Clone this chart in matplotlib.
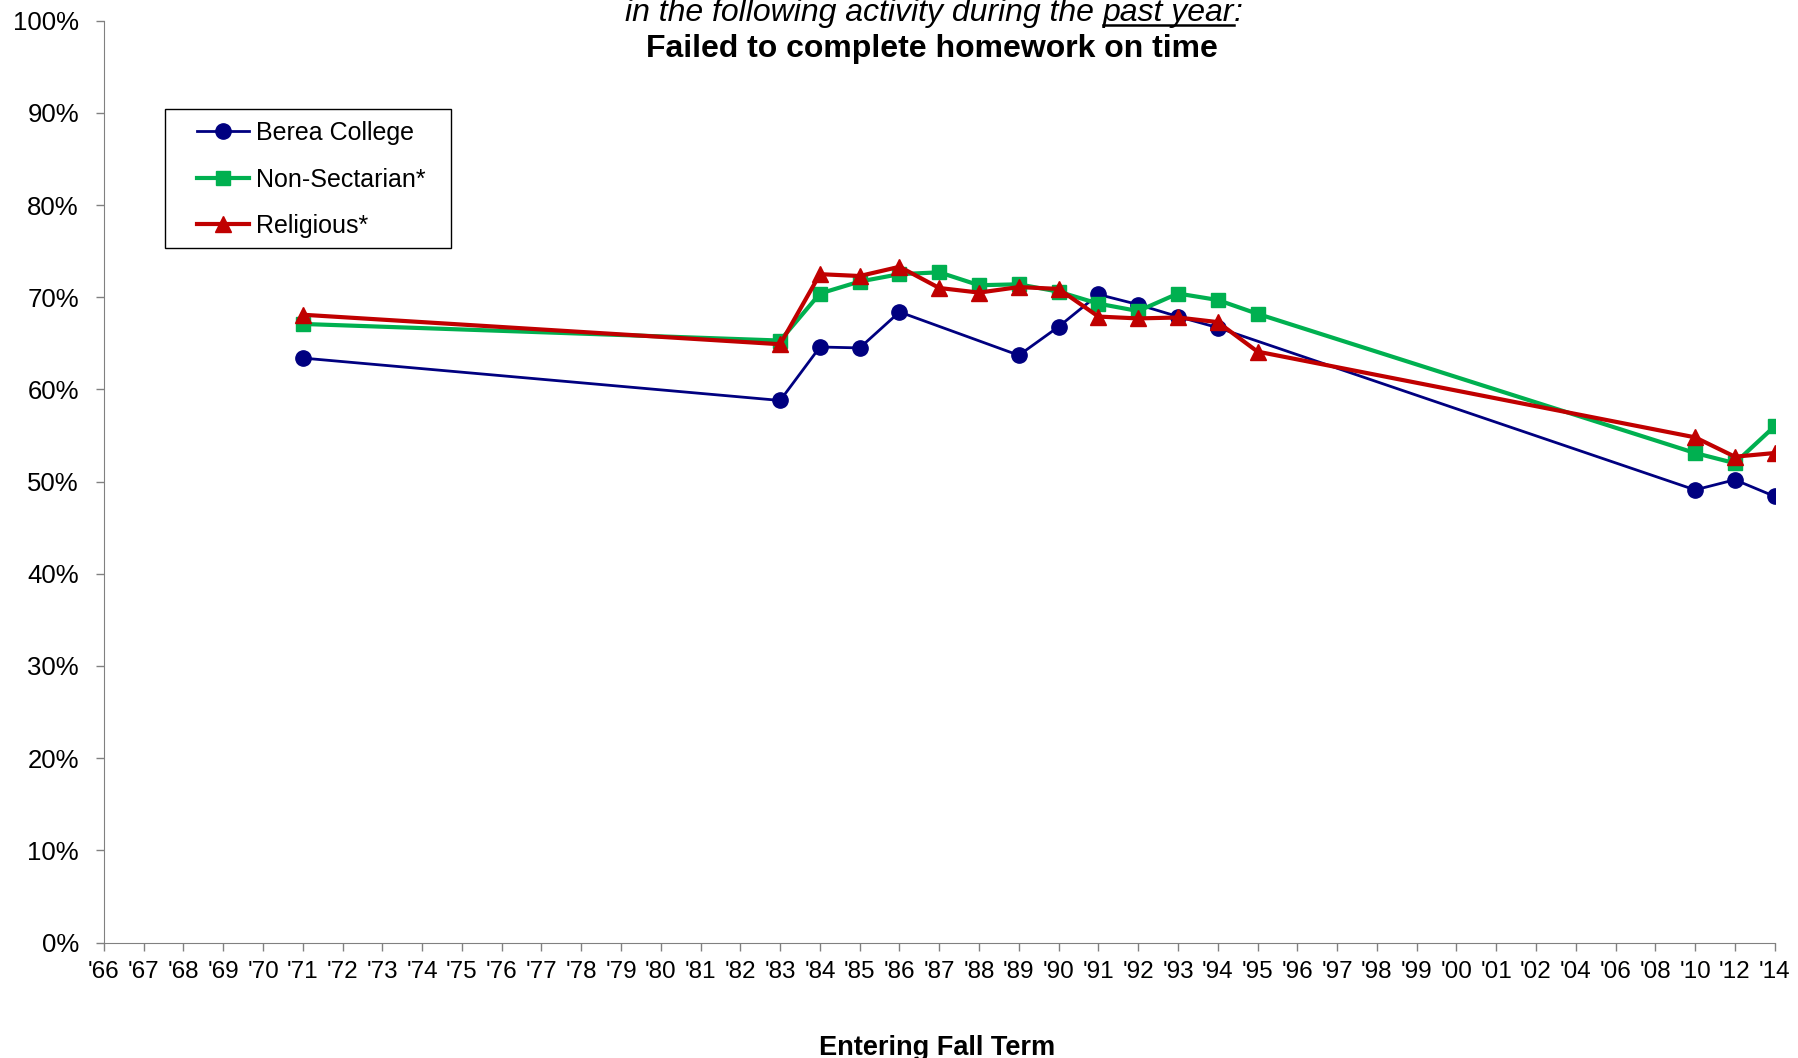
import numpy as np
import matplotlib
matplotlib.use("Agg")
import matplotlib.pyplot as plt
from matplotlib.lines import Line2D
from matplotlib.patches import Rectangle

plt.rcParams["font.family"] = ["Liberation Sans", "DejaVu Sans"]

# Entering fall term categories (x axis)
years = ["'66", "'67", "'68", "'69", "'70", "'71", "'72", "'73", "'74", "'75",
         "'76", "'77", "'78", "'79", "'80", "'81", "'82", "'83", "'84", "'85",
         "'86", "'87", "'88", "'89", "'90", "'91", "'92", "'93", "'94", "'95",
         "'96", "'97", "'98", "'99", "'00", "'01", "'02", "'04", "'06", "'08",
         "'10", "'12", "'14"]

# survey years that have data
data_years = ["'71", "'83", "'84", "'85", "'86", "'87", "'88", "'89", "'90",
              "'91", "'92", "'93", "'94", "'95", "'10", "'12", "'14"]

# percent values, None = not surveyed
berea = [63.4, 58.8, 64.6, 64.5, 68.4, None, None, 63.7, 66.8,
         70.3, 69.2, 67.9, 66.7, None, 49.1, 50.2, 48.4]
non_sectarian = [67.1, 65.3, 70.4, 71.7, 72.5, 72.7, 71.3, 71.4, 70.6,
                 69.3, 68.5, 70.4, 69.7, 68.2, 53.1, 52.0, 56.0]
religious = [68.1, 64.9, 72.5, 72.3, 73.3, 71.0, 70.5, 71.1, 70.9,
             67.9, 67.7, 67.8, 67.3, 64.1, 54.8, 52.7, 53.1]

series = [
    ("Berea College", berea, "#000080", "o", 2.0, 11),
    ("Non-Sectarian*", non_sectarian, "#00B050", "s", 3.0, 10),
    ("Religious*", religious, "#C00000", "^", 3.0, 11),
]

fig = plt.figure(figsize=(17.98, 10.58), dpi=100)
ax = fig.add_axes([0.0578, 0.1091, 0.9292, 0.8714])

for name, vals, color, marker, lw, ms in series:
    xs = [years.index(y) for y, v in zip(data_years, vals) if v is not None]
    ys = [v for v in vals if v is not None]
    ax.plot(xs, ys, color=color, marker=marker, lw=lw, ms=ms,
            markeredgecolor=color, label=name)

ax.set_xlim(0, len(years) - 1)
ax.set_ylim(0, 100)
ax.set_xticks(range(len(years)))
ax.set_xticklabels(years)
ax.set_yticks(range(0, 101, 10))
ax.set_yticklabels([f"{v}%" for v in range(0, 101, 10)])
ax.tick_params(axis="x", direction="out", length=6, width=1, pad=7,
               labelsize=17.5, color="#808080")
ax.tick_params(axis="y", direction="out", length=6, width=1, pad=12,
               labelsize=18.5, color="#808080")
for s in ["top", "right"]:
    ax.spines[s].set_visible(False)
for s in ["left", "bottom"]:
    ax.spines[s].set_color("#808080")

# legend box drawn by hand so the padding matches
ax.add_patch(Rectangle((165 / 1798, 1 - 248 / 1058), 286 / 1798, 139 / 1058,
                       transform=fig.transFigure, fill=True, facecolor="white",
                       edgecolor="black", lw=1.0, zorder=4))
leg = ax.legend(loc="upper left", bbox_to_anchor=(0.0557, 0.891),
                fontsize=18, frameon=False, handlelength=2.1,
                labelspacing=0.9, borderpad=0, borderaxespad=0,
                handletextpad=0.25)
leg.set_zorder(5)

# title: italic first line with underlined "past year", bold second line
fig.canvas.draw()
renderer = fig.canvas.get_renderer()
ty = 1 - 21 / 1058
parts = ["in the following activity during the ", "past year", ":"]


def text_width(s):
    t = fig.text(0, 0, s + "|", fontsize=23, style="italic")
    w = t.get_window_extent(renderer).width
    t.remove()
    b = fig.text(0, 0, "|", fontsize=23, style="italic")
    wb = b.get_window_extent(renderer).width
    b.remove()
    return w - wb


widths = [text_width(p) for p in parts]
total = sum(widths)
x0 = 934 - total / 2
for p, w in zip(parts, widths):
    fig.text(x0 / 1798, ty, p, fontsize=23, style="italic", ha="left",
             va="baseline")
    if p == "past year":
        fig.add_artist(Line2D([x0 / 1798, (x0 + w) / 1798],
                              [ty - 4 / 1058, ty - 4 / 1058],
                              color="black", lw=1.8))
    x0 += w

fig.text(932 / 1798, 1 - 57 / 1058, "Failed to complete homework on time",
         fontsize=23, fontweight="bold", ha="center", va="baseline")

fig.text(937 / 1798, 1 - 1055 / 1058, "Entering Fall Term",
         fontsize=19.5, fontweight="bold", ha="center", va="baseline")

fig.savefig("out.png", dpi=100)
